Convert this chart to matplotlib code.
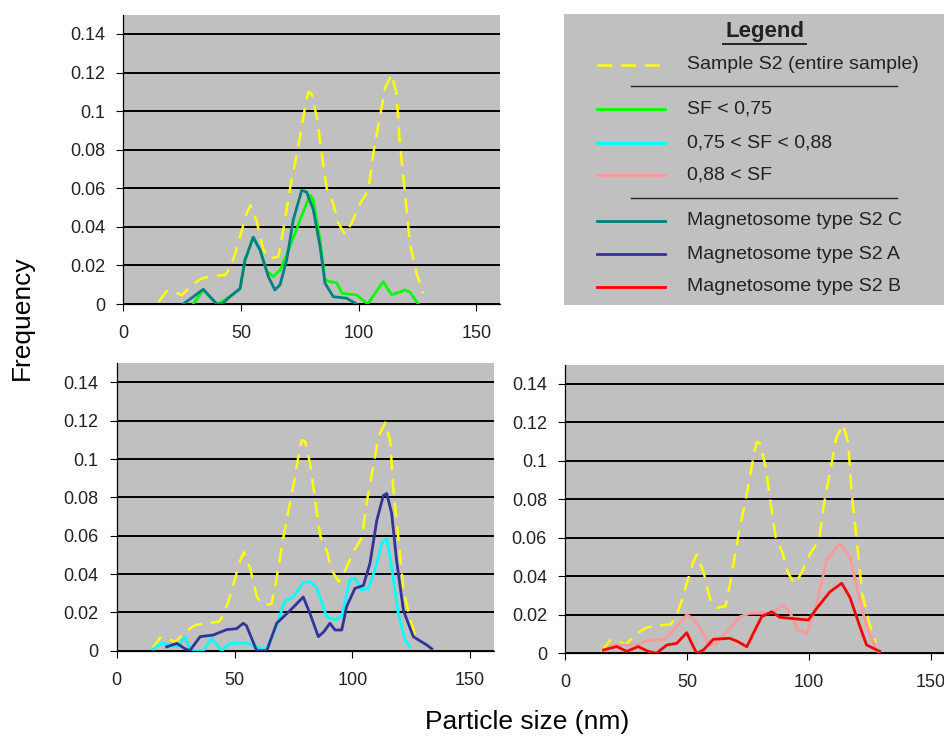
import matplotlib
matplotlib.use("Agg")
import matplotlib.pyplot as plt
from matplotlib.lines import Line2D
from matplotlib.ticker import FuncFormatter

plt.rcParams['font.family'] = ['Liberation Sans', 'DejaVu Sans']

# sample S2 (entire sample), same curve in all three panels
s2_x = [15, 18.4, 22, 24.8, 29, 33.3, 38.2, 43.2, 45.3, 47.5, 50.3, 52.4, 54, 56.7, 59.5, 62.3,
        65.8, 67.5, 69.4, 71, 73.7, 75.1, 77.5, 78.6, 80, 82.2, 84.3, 86.4, 89.2, 91.3, 94.2, 97,
        100.6, 104.1, 106.2, 109, 111.2, 114, 116.1, 117.5, 119.7, 121.8, 124.6, 127.4]
s2_y = [0.001, 0.0067, 0.0062, 0.0045, 0.0098, 0.0133, 0.0145, 0.015, 0.0185, 0.026, 0.038, 0.047,
        0.0513, 0.0427, 0.028, 0.0237, 0.0245, 0.035, 0.049, 0.061, 0.078, 0.087, 0.104, 0.110,
        0.109, 0.097, 0.078, 0.060, 0.052, 0.042, 0.036, 0.042, 0.052, 0.059, 0.078, 0.097, 0.112,
        0.119, 0.109, 0.083, 0.057, 0.031, 0.016, 0.0055]

# SF < 0,75
sf1_x = [29.7, 34, 38, 40, 45.3, 49.6, 51.7, 55.2, 58.1, 61, 63.7, 66.6, 70.8, 75.1, 79.3, 80.7,
         83.6, 85.7, 87.8, 90.6, 93, 99.1, 103.8, 110.4, 114, 119.7, 121.8, 125.3]
sf1_y = [0, 0.0073, 0.002, 0, 0.0038, 0.008, 0.0228, 0.0346, 0.028, 0.017, 0.0142, 0.0176, 0.0297,
         0.0436, 0.0565, 0.054, 0.033, 0.0124, 0.0116, 0.011, 0.0055, 0.0047, 0, 0.0116, 0.0047,
         0.0073, 0.006, 0]

# 0,75 < SF < 0,88
sf2_x = [15.5, 19.1, 22.6, 26, 29, 31.2, 36.8, 40.3, 44.5, 48.1, 55.2, 59.4, 63, 67.2, 71.4, 75,
         79.2, 82, 84.8, 89.1, 92.7, 95.5, 99, 101.1, 104, 106.8, 109.6, 112.5, 114.6, 116.7, 119.5,
         122.4, 124.5]
sf2_y = [0.001, 0.0038, 0.003, 0.002, 0.0073, 0, 0, 0.0065, 0, 0.0038, 0.004, 0.002, 0, 0.0108,
         0.0260, 0.028, 0.0355, 0.036, 0.033, 0.0177, 0.016, 0.018, 0.037, 0.0378, 0.0317, 0.0325,
         0.042, 0.056, 0.0586, 0.0438, 0.0195, 0.0056, 0.002]

# 0,88 < SF
sf3_x = [16.4, 19.8, 29.4, 34.8, 40.3, 44.4, 49.9, 52.6, 56.7, 59.4, 62.2, 66.3, 71.7, 75.8, 82.7,
         86.8, 89.5, 92.3, 95.6, 99.1, 103.2, 107.2, 112.7, 116.8, 120.2, 123.6, 127.7, 129]
sf3_y = [0.0017, 0.0043, 0.0043, 0.0069, 0.0069, 0.012, 0.020, 0.018, 0.0104, 0.0043, 0.0052,
         0.0112, 0.019, 0.0208, 0.0208, 0.0225, 0.025, 0.021, 0.012, 0.0104, 0.026, 0.0485, 0.0572,
         0.050, 0.031, 0.0138, 0.0017, 0]

# Magnetosome type S2 C
typc_x = [25.5, 34, 39.7, 42, 45.3, 49.6, 51.7, 55.2, 58.1, 61.6, 64.4, 66.6, 69.4, 72.2, 75.8,
          77.9, 80.7, 83.6, 85.7, 89.2, 94.9, 99.1]
typc_y = [0, 0.0076, 0, 0, 0.0038, 0.008, 0.0228, 0.0346, 0.028, 0.0142, 0.0073, 0.010, 0.0228,
          0.0436, 0.059, 0.058, 0.049, 0.0297, 0.0107, 0.0038, 0.003, 0]

# Magnetosome type S2 A
typa_x = [21.2, 25.5, 29, 31, 35.4, 41, 46.7, 50.9, 53.7, 55.1, 59.4, 63.7, 67.9, 73.6, 79.2, 82,
          85.6, 88, 90.5, 92.7, 95.5, 97.6, 101.1, 104.7, 107.5, 110.4, 113.2, 114.6, 116.7, 118.8,
          121.7, 125.9, 131.6, 133.7]
typa_y = [0.002, 0.0038, 0.001, 0, 0.0073, 0.0082, 0.011, 0.0115, 0.0143, 0.013, 0, 0, 0.0143,
          0.021, 0.028, 0.0195, 0.0073, 0.010, 0.0143, 0.0108, 0.0108, 0.023, 0.0325, 0.034,
          0.0456, 0.068, 0.081, 0.082, 0.0717, 0.047, 0.021, 0.0073, 0.003, 0.001]

# Magnetosome type S2 B
typb_x = [15.7, 21.2, 25.3, 30, 34.1, 37.5, 41.7, 45.8, 49.9, 52, 54, 56.7, 60.8, 67.6, 71, 74.5,
          77.2, 80.6, 84.7, 88.1, 99.7, 103.2, 108.6, 113.4, 116.8, 120.9, 123.6, 126.4, 129]
typb_y = [0.0017, 0.0035, 0.001, 0.0035, 0.001, 0, 0.0043, 0.0052, 0.0107, 0.005, 0, 0.0017,
          0.0073, 0.0078, 0.006, 0.0034, 0.0104, 0.019, 0.0216, 0.0187, 0.0173, 0.0234, 0.032,
          0.0364, 0.029, 0.0138, 0.0043, 0.0026, 0.001]

yticks = [0, 0.02, 0.04, 0.06, 0.08, 0.1, 0.12, 0.14]
xticks = [0, 50, 100, 150]

GREY = '#c0c0c0'
W, H = 944, 736

fig = plt.figure(figsize=(9.44, 7.36), dpi=100)


def make_axes(left, y0, sx, sy, xmax=160, ymax=0.15):
    # left/y0 in pixels, sx/sy pixels per data unit
    w = xmax * sx
    h = ymax * sy
    ax = fig.add_axes([left / W, 1 - y0 / H, w / W, h / H])
    ax.set_facecolor(GREY)
    ax.set_xlim(0, xmax)
    ax.set_ylim(0, ymax)
    ax.set_xticks(xticks)
    ax.set_yticks(yticks)
    ax.yaxis.set_major_formatter(FuncFormatter(lambda v, p: '%g' % round(v, 2)))
    ax.grid(axis='y', color='black', lw=1.4)
    ax.set_axisbelow(True)
    for s in ['top', 'right']:
        ax.spines[s].set_visible(False)
    for s in ['left', 'bottom']:
        ax.spines[s].set_color('black')
        ax.spines[s].set_linewidth(0.9)
        ax.spines[s].set_zorder(5)
    ax.tick_params(direction='out', length=5, width=0.8, labelsize=13, color='black',
                   labelcolor='#222222')
    ax.tick_params(axis='y', pad=8)
    ax.tick_params(axis='x', pad=10)
    return ax


def sample_line(ax):
    ax.plot(s2_x, s2_y, color='#ffff00', lw=1.8, dashes=(6, 3.5))


ax1 = make_axes(123.3, 304, 2.354, 1928.6)
sample_line(ax1)
ax1.plot(sf1_x, sf1_y, color='#00ff00', lw=2)
ax1.plot(typc_x, typc_y, color='#008080', lw=2)

ax2 = make_axes(116.7, 650.7, 2.356, 1917)
sample_line(ax2)
ax2.plot(sf2_x, sf2_y, color='#00ffff', lw=2)
ax2.plot(typa_x, typa_y, color='#333399', lw=2)

ax3 = make_axes(565, 653.3, 2.44, 1923.6)
sample_line(ax3)
ax3.plot(sf3_x, sf3_y, color='#ff9999', lw=2)
ax3.plot(typb_x, typb_y, color='#ff0000', lw=2)

# legend panel
lg = fig.add_axes([564 / W, 1 - 305 / H, 380 / W, 291 / H])
lg.set_facecolor(GREY)
lg.set_xlim(0, 1)
lg.set_ylim(0, 1)
lg.set_xticks([])
lg.set_yticks([])
for s in lg.spines.values():
    s.set_visible(False)

lg.text(0.529, 0.939, 'Legend', ha='center', va='center', fontsize=16, fontweight='bold',
        color='#222222')
lg.add_line(Line2D([0.418, 0.637], [0.897, 0.897], color='#222222', lw=1.4))

entries = [
    ('Sample S2 (entire sample)', '#ffff00', '--', 0.825),
    ('SF < 0,75', '#00ff00', '-', 0.674),
    ('0,75 < SF < 0,88', '#00ffff', '-', 0.558),
    ('0,88 < SF', '#ff9999', '-', 0.447),
    ('Magnetosome type S2 C', '#008080', '-', 0.290),
    ('Magnetosome type S2 A', '#333399', '-', 0.174),
    ('Magnetosome type S2 B', '#ff0000', '-', 0.063),
]
for label, col, ls, yy in entries:
    if ls == '--':
        lg.add_line(Line2D([0.086, 0.266], [yy, yy], color=col, lw=1.8, dashes=(6, 3.5)))
    else:
        lg.add_line(Line2D([0.086, 0.266], [yy, yy], color=col, lw=2))
    lg.text(0.323, yy, label, ha='left', va='center', fontsize=14, color='#222222')

lg.add_line(Line2D([0.176, 0.876], [0.753, 0.753], color='#222222', lw=1))
lg.add_line(Line2D([0.176, 0.876], [0.369, 0.369], color='#222222', lw=1))

fig.text(22 / W, 1 - 318 / H, 'Frequency', rotation=90, ha='center', va='center', fontsize=19)
fig.text(527 / W, 1 - 722 / H, 'Particle size (nm)', ha='center', va='center', fontsize=19)

fig.savefig('out.png', dpi=100, facecolor='white')
